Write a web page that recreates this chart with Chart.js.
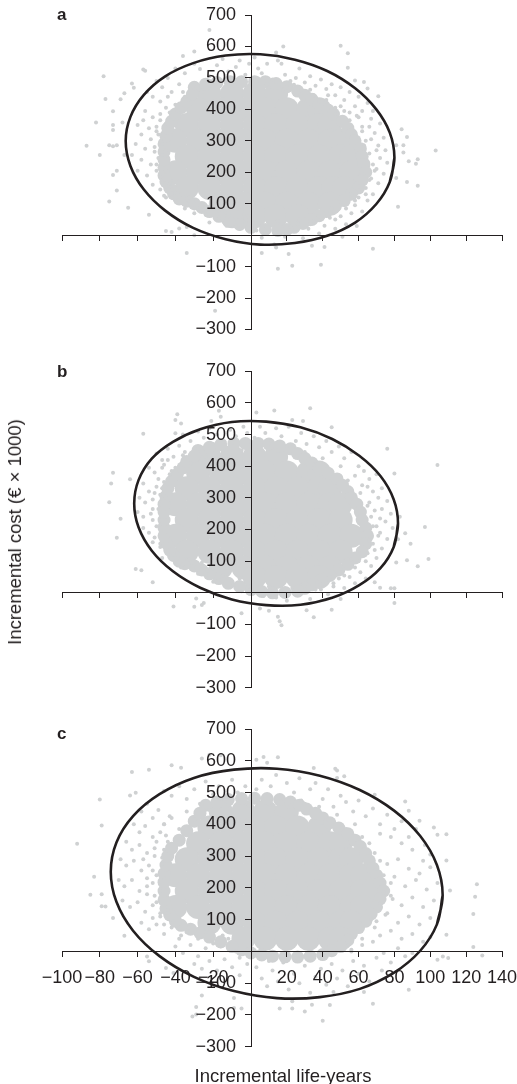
<!DOCTYPE html>
<html>
<head>
<meta charset="utf-8">
<title>Incremental cost vs incremental life-years</title>
<script src="https://cdn.jsdelivr.net/npm/chart.js@4/dist/chart.umd.min.js"></script>
<style>
  html, body { margin: 0; padding: 0; background: #fff; }
  #page { position: relative; width: 517px; height: 1084px; overflow: hidden; font-family: "Liberation Sans", Arial, sans-serif; color: #231f20; }
  canvas { position: absolute; left: 0; }
  .panel { position: absolute; left: 57px; font-weight: bold; font-size: 17px; line-height: 16px; }
  .title { position: absolute; font-size: 18.5px; line-height: 18px; white-space: nowrap; }
</style>
</head>
<body>
<div id="page">
  <canvas id="chartA" width="517" height="340" style="top:0"></canvas>
  <canvas id="chartB" width="517" height="340" style="top:360px"></canvas>
  <canvas id="chartC" width="517" height="364" style="top:720px"></canvas>
  <div class="panel" style="top:7px">a</div>
  <div class="panel" style="top:364px">b</div>
  <div class="panel" style="top:726px">c</div>
  <div class="title" style="left:15px;top:532px;transform:translate(-50%,-50%) rotate(-90deg)">Incremental cost (€ × 1000)</div>
  <div class="title" style="left:283px;top:1067px;transform:translateX(-50%)">Incremental life-years</div>
</div>
<script>
// Axis ticks
const xTicks = [-100, -80, -60, -40, -20, 0, 20, 40, 60, 80, 100, 120, 140];
const yTicks = [-300, -200, -100, 0, 100, 200, 300, 400, 500, 600, 700];

// Each cloud. The solid middle of a cloud holds far
// too many dots to read one by one, so "core" (big dots) and "rim" (medium dots)
// stand for that mass; only the "dots" lists are individual marks.
const coreA = [[-22,450],[-10,450],[2,450],[14,450],[-28,400],[-16,400],[-4,400],[8,400],[20,400],[32,400],[38,400],[-34,350],[-22,350],[-10,350],[2,350],[14,350],[26,350],[38,350],[44,350],[-40,300],[-28,300],[-16,300],[-4,300],[8,300],[20,300],[32,300],[44,300],[50,300],[-34,250],[-22,250],[-10,250],[2,250],[14,250],[26,250],[38,250],[50,250],[56,250],[-40,200],[-28,200],[-16,200],[-4,200],[8,200],[20,200],[32,200],[44,200],[56,200],[-34,150],[-22,150],[-10,150],[2,150],[14,150],[26,150],[38,150],[46,150],[52,150],[-16,100],[-4,100],[8,100],[20,100],[32,100],[44,100],[-10,60],[2,60],[14,60],[26,60]];
const coreB = [[-22,430],[-10,430],[2,430],[14,430],[-28,380],[-16,380],[-4,380],[8,380],[20,380],[32,380],[38,380],[-34,330],[-22,330],[-10,330],[2,330],[14,330],[26,330],[38,330],[44,330],[-40,280],[-28,280],[-16,280],[-4,280],[8,280],[20,280],[32,280],[44,280],[50,280],[-34,230],[-22,230],[-10,230],[2,230],[14,230],[26,230],[38,230],[50,230],[-40,180],[-28,180],[-16,180],[-4,180],[8,180],[20,180],[32,180],[44,180],[56,180],[-34,130],[-22,130],[-10,130],[2,130],[14,130],[26,130],[38,130],[50,130],[-16,80],[-4,80],[8,80],[20,80],[32,80],[44,80],[2,50],[14,50],[26,50],[38,50]];
const coreC = [[-16,440],[-4,440],[8,440],[20,440],[-22,390],[-10,390],[2,390],[14,390],[26,390],[38,390],[-28,340],[-16,340],[-4,340],[8,340],[20,340],[32,340],[44,340],[50,340],[-34,290],[-22,290],[-10,290],[2,290],[14,290],[26,290],[38,290],[50,290],[56,290],[-40,240],[-28,240],[-16,240],[-4,240],[8,240],[20,240],[32,240],[44,240],[56,240],[62,240],[-34,190],[-22,190],[-10,190],[2,190],[14,190],[26,190],[38,190],[50,190],[62,190],[68,190],[-40,140],[-28,140],[-16,140],[-4,140],[8,140],[20,140],[32,140],[44,140],[56,140],[62,140],[-22,90],[-10,90],[2,90],[14,90],[26,90],[38,90],[50,90],[56,90],[-4,40],[8,40],[20,40],[32,40],[44,40],[50,40]];

const rimA = [[-30,470],[-24,480],[-18,485],[-11,488],[-5,488],[2,488],[8,488],[14,482],[20,472],[26,458],[30,445],[34,432],[38,415],[43,398],[46,385],[51,362],[54,340],[56,320],[58,300],[61,275],[62,250],[63,225],[64,200],[62,175],[60,150],[56,130],[52,110],[47,92],[42,75],[38,62],[34,50],[29,37],[24,25],[20,18],[15,15],[8,18],[0,25],[-6,34],[-12,45],[-17,60],[-22,75],[-26,88],[-30,100],[-34,108],[-38,115],[-41,132],[-43,150],[-45,170],[-46,190],[-46,215],[-46,240],[-46,265],[-46,290],[-45,315],[-44,340],[-42,362],[-40,385],[-37,405],[-34,425],[-31,448]];
const rimB = [[-28,450],[-22,460],[-16,468],[-9,472],[-3,472],[4,472],[10,470],[16,464],[22,455],[26,440],[30,425],[34,410],[38,395],[43,378],[48,360],[51,340],[54,320],[56,300],[59,280],[61,255],[62,230],[64,205],[65,180],[64,155],[62,130],[58,110],[54,90],[49,72],[44,55],[39,40],[34,25],[30,14],[26,5],[19,1],[12,0],[6,4],[0,10],[-6,20],[-12,30],[-17,45],[-22,60],[-26,72],[-30,85],[-35,92],[-38,100],[-41,118],[-43,135],[-45,158],[-46,180],[-46,205],[-46,230],[-46,255],[-46,280],[-45,305],[-44,330],[-42,352],[-39,375],[-36,395],[-34,415],[-30,432]];
const rimC = [[-24,460],[-18,470],[-12,478],[-5,481],[2,482],[9,481],[16,478],[22,470],[27,460],[31,448],[36,435],[40,420],[44,405],[49,388],[54,370],[58,350],[61,330],[64,308],[66,285],[68,262],[70,240],[72,215],[74,190],[72,165],[70,140],[67,118],[64,95],[60,75],[56,55],[54,35],[50,15],[45,2],[40,-10],[33,-15],[26,-18],[19,-17],[12,-15],[6,-11],[0,-5],[-5,5],[-10,15],[-16,30],[-22,45],[-27,58],[-32,70],[-37,82],[-40,95],[-43,115],[-45,135],[-46,162],[-46,190],[-46,218],[-46,245],[-45,272],[-44,300],[-42,325],[-38,350],[-34,380],[-30,410],[-27,435]];

const dotsA = [[-22,652],[-30,584],[-36,570],[18,600],[50,602],[54,578],[54,532],[14,581],[-78,505],[-77,433],[-57,527],[-56,523],[-63,482],[-62,469],[-67,451],[-69,432],[-73,394],[-82,358],[-68,358],[-73,350],[-73,334],[-87,284],[-75,286],[-73,283],[-71,286],[-80,255],[-67,255],[-73,191],[-71,205],[-71,142],[-75,107],[-65,87],[-54,65],[-45,13],[-42,10],[-38,21],[-34,26],[-30,0],[-34,-57],[-19,-240],[6,-57],[14,-39],[13,-30],[21,-60],[15,-107],[23,-97],[39,-94],[34,-34],[41,-38],[51,-5],[68,-43],[59,29],[82,90],[93,157],[87,169],[81,182],[92,227],[93,241],[88,235],[103,269],[85,263],[85,286],[81,286],[87,312],[84,337],[71,442],[65,466],[63,487],[58,492],
[-40,530],[-35,515],[-30,545],[-27,528],[-22,505],[-18,540],[-15,560],[-12,520],[-8,535],[-6,555],[-3,510],[-1,545],[2,565],[4,530],[6,515],[9,545],[7,500],[12,495],[15,555],[17,545],[19,510],[22,490],[25,500],[27,530],[30,485],[33,505],[36,475],[39,495],[42,465],[45,480],[47,445],[50,470],[52,430],[55,455],[58,410],[60,440],[62,395],[65,420],
[-50,490],[-47,470],[-44,500],[-42,455],[-38,480],[-35,440],[-52,440],[-55,455],[-48,425],[-45,405],[-56,395],[-52,375],[-48,385],[-60,350],[-57,365],[-54,340],[-50,345],[-58,320],[-53,305],[-49,320],[-61,290],[-56,275],[-51,265],[-47,290],[-63,255],[-58,240],[-53,225],[-49,245],[-60,205],[-55,190],[-50,205],[-46,180],[-52,160],[-48,145],[-43,165],[-45,120],[-40,135],[-38,105],[-33,120],[-35,85],[-30,70],[-27,95],[-24,65],[-22,40],[-17,55],[-13,30],[-9,45],[-6,20],[-3,35],[-12,70],[-7,85],[-2,60],
[3,15],[6,-8],[9,25],[13,5],[16,30],[19,-5],[22,15],[26,35],[29,-10],[32,20],[35,45],[38,5],[41,30],[44,55],[47,20],[50,60],[53,35],[56,70],[45,85],[58,95],[62,75],[65,110],[60,120],[68,130],[64,150],[71,165],[67,180],[74,195],[70,210],[76,230],[72,245],[68,225],[75,270],[71,285],[66,260],[74,310],[69,325],[64,300],[72,355],[67,370],[62,345],[68,395],[60,375],[55,390],[50,410],[47,385],[42,430],[35,445],[28,460],[20,470],[10,470],[0,480],[-10,480],[-20,470],[-30,465],
[-44,440],[-40,415],[-36,455],[-33,430],[-30,480],[-26,455],[-22,490],[-18,470],[-14,495],[-9,475],[-5,500],[0,470],[4,498],[9,480],[14,488],[18,462],[24,478],[28,442],[33,462],[38,425],[43,445],[47,405],[52,395],[55,365],[59,380],[62,330],[66,345],[63,285],[67,305],[70,270],[65,235],[69,205],[66,175],[62,195],[60,155],[64,130],[56,130],[58,110],[50,105],[53,85],[44,70],[47,50],[38,60],[33,35],[27,50],[22,28],[15,45],[10,15],[3,38],[-3,55],[-8,30],[-12,60],[-17,78],[-20,95],[-25,80],[-29,110],[-34,100],[-38,125],[-42,145],[-46,125],[-45,165],[-48,185],[-45,205],[-50,225],[-47,255],[-51,280],[-46,305],[-50,330],[-45,355],[-48,365],[-43,390],[-39,395],[-41,370],[-45,270],[-44,235],[-42,120],[-30,85]];

const dotsB = [[-39,564],[-40,546],[-37,535],[-17,575],[-16,556],[-21,543],[3,570],[13,576],[33,583],[23,546],[29,543],[-57,503],[-40,504],[45,523],[76,455],[104,404],[80,377],[-73,379],[-74,345],[-64,359],[-75,286],[-69,234],[-71,174],[-61,75],[-58,71],[-52,33],[-41,-43],[-30,-44],[-25,-32],[-26,-39],[-29,-18],[-5,-65],[5,-50],[10,-57],[15,-76],[16,-90],[17,-103],[35,-77],[45,-54],[31,-55],[50,-20],[80,-32],[78,14],[80,14],[72,16],[69,33],[93,84],[99,107],[87,103],[81,96],[89,155],[97,208],[86,188],[82,169],[83,240],
[-36,500],[-32,480],[-28,510],[-25,490],[-22,520],[-18,500],[-14,478],[-11,515],[-8,495],[-4,525],[-2,505],[2,490],[5,525],[8,505],[11,480],[14,520],[17,495],[21,525],[25,480],[28,505],[31,470],[35,495],[38,460],[42,480],[45,445],[49,462],[52,425],[56,445],[60,400],[63,385],[66,360],[70,375],[73,330],[68,320],[62,340],
[-50,440],[-47,420],[-44,455],[-41,430],[-38,465],[-35,445],[-54,395],[-51,380],[-47,395],[-43,375],[-57,345],[-54,320],[-50,335],[-46,350],[-59,300],[-56,285],[-52,295],[-48,310],[-60,255],[-57,240],[-53,250],[-49,265],[-57,205],[-54,190],[-50,210],[-46,195],[-52,160],[-48,145],[-44,165],[-41,120],[-37,135],[-33,105],[-36,90],[-29,80],[-26,95],[-24,60],[-20,75],[-17,40],[-13,60],[-9,25],[-6,45],[-2,15],
[4,10],[7,-10],[10,20],[14,-15],[17,5],[20,-25],[23,15],[27,-5],[30,25],[33,-20],[36,10],[40,30],[43,-5],[46,20],[49,45],[52,15],[55,50],[58,30],[61,65],[64,45],[67,85],[60,100],[70,110],[65,125],[73,140],[68,155],[76,170],[72,190],[79,205],[75,225],[70,210],[78,250],[73,265],[67,240],[76,290],[71,300],[65,275],
[-44,420],[-40,395],[-36,435],[-32,410],[-28,455],[-24,430],[-20,470],[-15,448],[-10,475],[-5,450],[0,478],[5,455],[10,472],[15,450],[20,465],[25,430],[30,445],[35,405],[40,425],[45,385],[50,400],[54,355],[58,370],[61,315],[65,335],[66,285],[69,260],[72,235],[68,210],[71,180],[66,165],[69,135],[62,125],[64,100],[56,105],[58,80],[50,75],[52,55],[44,50],[46,30],[37,35],[39,10],[30,10],[24,25],[18,0],[12,15],[6,-5],[0,20],[-5,5],[-10,35],[-15,55],[-20,35],[-23,70],[-28,60],[-31,95],[-37,80],[-40,110],[-44,130],[-47,110],[-48,155],[-44,180],[-51,175],[-48,215],[-52,230],[-47,240],[-52,265],[-48,280],[-45,300],[-51,315],[-47,330],[-44,345],[-49,360],[-42,385],[-46,405]];

const dotsC = [[-92,339],[-80,478],[-79,396],[-83,235],[-85,178],[-79,180],[-79,142],[-77,141],[-73,105],[-67,49],[-63,565],[-54,572],[-42,586],[-37,578],[-64,491],[-61,499],[-26,607],[-22,619],[-16,617],[3,603],[7,612],[15,611],[9,594],[35,577],[47,575],[48,569],[48,546],[52,551],[69,493],[86,472],[88,443],[94,411],[102,390],[104,367],[109,369],[109,286],[111,192],[126,211],[125,172],[124,118],[109,52],[124,14],[129,-13],[110,-21],[104,-26],[107,-16],[88,-121],[68,-165],[63,-128],[46,-128],[44,-169],[40,-218],[34,-168],[30,-189],[23,-180],[23,-157],[16,-180],[-5,-180],[-9,-147],[-9,-178],[-26,-139],[-29,-175],[-31,-205],[-29,-199],[-55,-16],[-54,-31],[-45,-52],[-41,-68],
[-46,505],[-42,490],[-38,520],[-34,480],[-30,510],[-27,465],[-24,535],[-20,495],[-17,520],[-14,475],[-10,540],[-7,500],[-3,520],[-1,480],[3,510],[6,540],[8,490],[11,520],[14,555],[17,480],[20,530],[24,500],[27,545],[30,465],[33,510],[36,530],[40,480],[43,510],[46,455],[50,490],[53,470],[57,440],[60,475],[64,425],[68,450],[72,400],[76,430],[80,385],[84,410],[88,360],[92,385],[97,335],[100,305],[96,285],[90,320],[84,340],[78,360],[72,370],
[-58,440],[-55,465],[-52,420],[-49,445],[-46,400],[-43,425],[-62,400],[-59,375],[-56,395],[-52,360],[-48,375],[-44,345],[-66,345],[-63,320],[-59,335],[-55,310],[-51,325],[-47,295],[-69,290],[-66,270],[-62,285],[-58,255],[-54,270],[-50,240],[-70,225],[-67,205],[-63,225],[-59,190],[-55,205],[-51,175],[-47,195],[-68,160],[-64,140],[-60,155],[-56,125],[-52,145],[-48,110],[-44,130],[-58,90],[-54,70],[-50,85],[-46,55],[-42,75],[-38,40],[-34,60],[-40,15],[-36,-5],[-32,20],[-28,-15],[-24,10],[-30,-40],[-26,-55],[-22,-30],[-18,-60],[-14,-25],[-10,-50],[-6,-75],[-2,-40],[-16,15],[-8,0],[-12,40],
[3,-50],[6,-85],[9,-110],[12,-60],[15,-95],[18,-35],[21,-120],[24,-70],[27,-100],[30,-45],[33,-130],[36,-80],[39,-55],[42,-105],[45,-40],[48,-85],[51,-60],[54,-110],[57,-30],[60,-70],[63,-45],[66,-95],[70,-20],[73,-60],[56,5],[62,20],[68,30],[74,-5],[78,-35],[82,10],[86,-15],[90,-5],[72,50],[78,65],[84,40],[90,55],[96,30],[100,45],[70,95],[76,120],[82,90],[88,110],[94,85],[100,105],[72,150],[78,175],[84,145],[90,170],[96,140],[102,160],[74,215],[80,235],[86,205],[92,225],[98,195],[104,215],[76,275],[82,290],[88,260],[94,245],[100,265],
[-46,400],[-42,420],[-38,385],[-34,440],[-30,415],[-26,465],[-22,445],[-17,480],[-12,460],[-6,485],[-1,460],[4,478],[10,465],[16,480],[22,460],[28,475],[33,440],[38,455],[43,415],[48,430],[53,385],[58,400],[62,360],[66,340],[69,310],[72,285],[70,260],[74,240],[78,215],[74,185],[79,165],[72,140],[75,115],[67,100],[69,75],[60,65],[62,40],[54,20],[56,0],[47,-5],[40,-20],[33,0],[26,-25],[18,-5],[10,-30],[4,-10],[-2,5],[-6,-20],[-10,30],[-15,50],[-20,25],[-24,60],[-28,40],[-33,75],[-37,50],[-41,95],[-46,85],[-48,120],[-52,105],[-50,155],[-55,180],[-48,190],[-52,215],[-46,230],[-52,255],[-47,275],[-51,300],[-46,320],[-50,345],[-45,365],[-55,230],[-57,290]];

// The ellipses, traced round the outline; the last point overlaps the first stretch to hide the join
const ellipseA = [[80,246],[77.4,169],[69.9,99],[58.1,40],[42.5,-2],[24.5,-25],[5.2,-30],[-13.4,-13],[-30.6,23],[-45.4,78],[-56.7,145],[-63.8,220],[-66.3,299],[-63.8,376],[-56.7,446],[-45.4,505],[-30.6,547],[-13.4,571],[5.2,575],[24.5,558],[42.5,522],[58.1,467],[69.9,400],[77.4,326],[80,246],[77.4,169]];
const ellipseB = [[82,219],[79.6,145],[72.2,78],[60.4,24],[45.3,-16],[27.6,-38],[8.5,-39],[-10.1,-21],[-26.9,16],[-41.3,68],[-52.5,133],[-59.5,207],[-61.8,282],[-59.5,356],[-52.5,424],[-41.3,477],[-26.9,517],[-10.1,540],[8.5,541],[27.6,523],[45.3,486],[60.4,433],[72.2,369],[79.6,295],[82,219],[79.6,145]];
const ellipseC = [[106.9,177],[103.7,85],[94.4,2],[79.8,-67],[60.7,-118],[38.4,-144],[14.5,-147],[-9,-125],[-30.2,-80],[-48.4,-15],[-62.4,65],[-71.2,156],[-74.2,251],[-71.2,343],[-62.4,426],[-48.4,495],[-30.2,546],[-9,572],[14.5,575],[38.4,553],[60.7,508],[79.8,443],[94.4,363],[103.7,272],[106.9,177],[103.7,85]];

const dotGrey = '#cfd1d2';
const inkColor = '#231f20';

// The printed x axis is not quite even: the negative side is a little wider than the positive side
class SplitLinearScale extends Chart.LinearScale {
  static id = 'splitLinear';
  static defaults = Chart.LinearScale.defaults;
  getPixelForValue(value) {
    const zeroAt = 189 / 440;
    const decimal = value < 0
      ? zeroAt * (value - this.min) / (0 - this.min)
      : zeroAt + (1 - zeroAt) * value / this.max;
    return this.getPixelForDecimal(decimal);
  }
}
Chart.register(SplitLinearScale);

function toXY(pairs) {
  return pairs.map(p => ({ x: p[0], y: p[1] }));
}

function tickLabel(value) {
  if (value === 0) return '';
  return value < 0 ? '\u2212' + Math.abs(value) : String(value);
}

// Labels may hang over the plot edge, the panel positions are fixed by layout.padding alone
function noLabelPadding(axis) {
  axis.paddingLeft = 0;
  axis.paddingRight = 0;
  axis.paddingTop = 0;
  axis.paddingBottom = 0;
}

function drawPanel(id, core, rim, dots, ellipse, padding, showXLabels) {
  new Chart(document.getElementById(id), {
    type: 'scatter',
    data: {
      datasets: [
        { data: toXY(core), pointRadius: 12, pointBackgroundColor: dotGrey, pointBorderWidth: 0, order: 4 },
        { data: toXY(rim), pointRadius: 6.5, pointBackgroundColor: dotGrey, pointBorderWidth: 0, order: 3 },
        { data: toXY(dots), pointRadius: 2, pointBackgroundColor: dotGrey, pointBorderWidth: 0, order: 2 },
        { data: toXY(ellipse), showLine: true, tension: 0.4, borderColor: inkColor, borderWidth: 2.6, pointRadius: 0, order: 1 }
      ]
    },
    options: {
      responsive: false,
      animation: false,
      layout: { padding: padding, autoPadding: false },
      plugins: { legend: { display: false }, tooltip: { enabled: false } },
      scales: {
        x: {
          type: 'splitLinear',
          min: -100,
          max: 140,
          position: { y: 0 },
          afterBuildTicks: axis => { axis.ticks = xTicks.map(v => ({ value: v })); },
          afterFit: noLabelPadding,
          grid: { drawOnChartArea: false, tickLength: 5, tickColor: inkColor, z: 1 },
          border: { color: inkColor, width: 1, z: 1 },
          ticks: {
            display: showXLabels, autoSkip: false, maxRotation: 0, padding: 11, z: 1,
            color: inkColor, font: { family: '"Liberation Sans"', size: 18 }, callback: tickLabel
          }
        },
        y: {
          min: -300,
          max: 700,
          position: { x: 0 },
          afterBuildTicks: axis => { axis.ticks = yTicks.map(v => ({ value: v })); },
          afterFit: noLabelPadding,
          grid: { drawOnChartArea: false, tickLength: 6, tickColor: inkColor, z: 1 },
          border: { color: inkColor, width: 1, z: 1 },
          ticks: {
            autoSkip: false, z: 1,
            color: inkColor, font: { family: '"Liberation Sans"', size: 18 },
            // a centre-placed axis ignores ticks.padding, so the gap to the axis comes from trailing spaces
            callback: value => value === 0 ? '' : tickLabel(value) + '   '
          }
        }
      }
    }
  });
}

drawPanel('chartA', coreA, rimA, dotsA, ellipseA, { left: 62, right: 15, top: 15, bottom: 10.5 }, false);
drawPanel('chartB', coreB, rimB, dotsB, ellipseB, { left: 62, right: 15, top: 11.3, bottom: 12.3 }, false);
drawPanel('chartC', coreC, rimC, dotsC, ellipseC, { left: 62, right: 15, top: 9, bottom: 37.3 }, true);
</script>
</body>
</html>
